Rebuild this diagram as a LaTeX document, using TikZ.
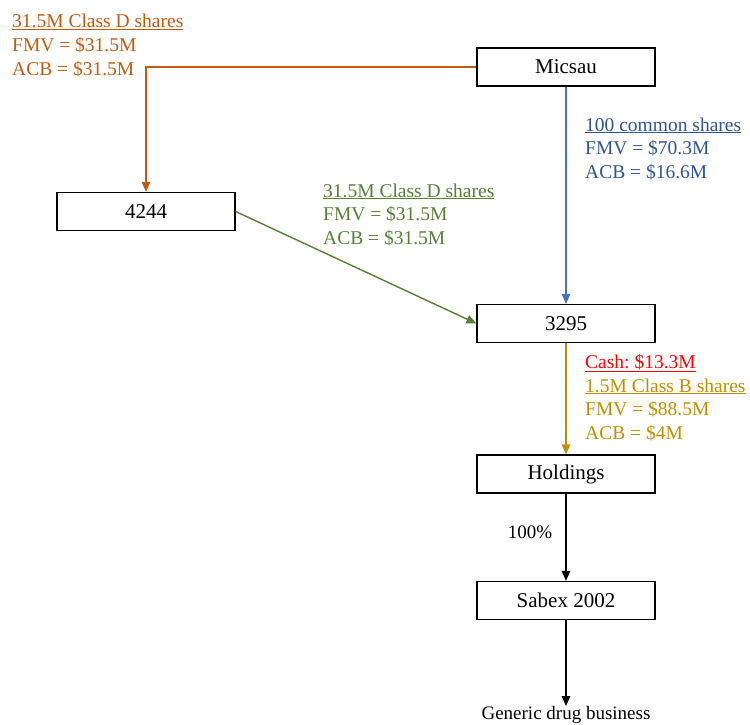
\documentclass[tikz,border=0pt]{standalone}
\usepackage{fontspec}
\setmainfont{Liberation Serif}
\frenchspacing
\usetikzlibrary{arrows.meta}
\definecolor{orangeC}{HTML}{C55A11}
\definecolor{greenC}{HTML}{548235}
\definecolor{blueT}{HTML}{2F5597}
\definecolor{blueL}{HTML}{4472C4}
\definecolor{goldC}{HTML}{BF9000}
\definecolor{redC}{HTML}{FF0000}
\tikzset{
  ent/.style={draw=black, line width=1.2pt, minimum width=178pt, minimum height=38pt, inner sep=0pt, font=\fontsize{21}{25}\selectfont},
  lbl/.style={anchor=base west, inner sep=0pt, font=\fontsize{19.5}{23.5}\selectfont},
  conn/.style={line width=1.4pt, -{Triangle[length=10pt,width=8.5pt]}},
  txt/.style={anchor=base, inner sep=0pt, font=\fontsize{19}{23}\selectfont}
}
\begin{document}
\begin{tikzpicture}[x=1pt,y=-1pt]
\useasboundingbox (0,0) rectangle (750,725);
% entities
\node[ent] (micsau) at (566,67) {Micsau};
\node[ent] (n4244) at (146,211.5) {4244};
\node[ent] (n3295) at (566,323.5) {3295};
\node[ent] (hold) at (566,474) {Holdings};
\node[ent] (sabex) at (566,600.5) {Sabex 2002};
\coordinate (gend) at (566,706);
\node[txt] (gen) at (566,719) {Generic drug business};
% connectors
\draw[conn, draw=orangeC] (micsau.west) -| (n4244.north);
\draw[conn, draw=blueL] (micsau.south) -- (n3295.north);
\draw[conn, draw=greenC] (n4244.east) -- (n3295.west);
\draw[conn, draw=goldC] (n3295.south) -- (hold.north);
\draw[conn, draw=black] (hold.south) -- (sabex.north);
\draw[conn, draw=black] (sabex.south) -- (gend);
% labels
\node[lbl, text=orangeC] (o1) at (12,28) {\underline{31.5M Class D shares}};
\node[lbl, text=orangeC] (o2) at (12,51.5) {FMV = \$31.5M};
\node[lbl, text=orangeC] (o3) at (12,75) {ACB = \$31.5M};
\node[lbl, text=greenC] (g1) at (323,197) {\underline{31.5M Class D shares}};
\node[lbl, text=greenC] (g2) at (323,220.5) {FMV = \$31.5M};
\node[lbl, text=greenC] (g3) at (323,244) {ACB = \$31.5M};
\node[lbl, text=blueT] (b1) at (585,131) {\underline{100 common shares}};
\node[lbl, text=blueT] (b2) at (585,154.5) {FMV = \$70.3M};
\node[lbl, text=blueT] (b3) at (585,178) {ACB = \$16.6M};
\node[lbl, text=redC] (c1) at (585,368) {\underline{Cash: \$13.3M}};
\node[lbl, text=goldC] (c2) at (585,392) {\underline{1.5M Class B shares}};
\node[lbl, text=goldC] (c3) at (585,415.5) {FMV = \$88.5M};
\node[lbl, text=goldC] (c4) at (585,439) {ACB = \$4M};
\node[txt] (pct) at (530,538) {100\%};
\end{tikzpicture}
\end{document}
